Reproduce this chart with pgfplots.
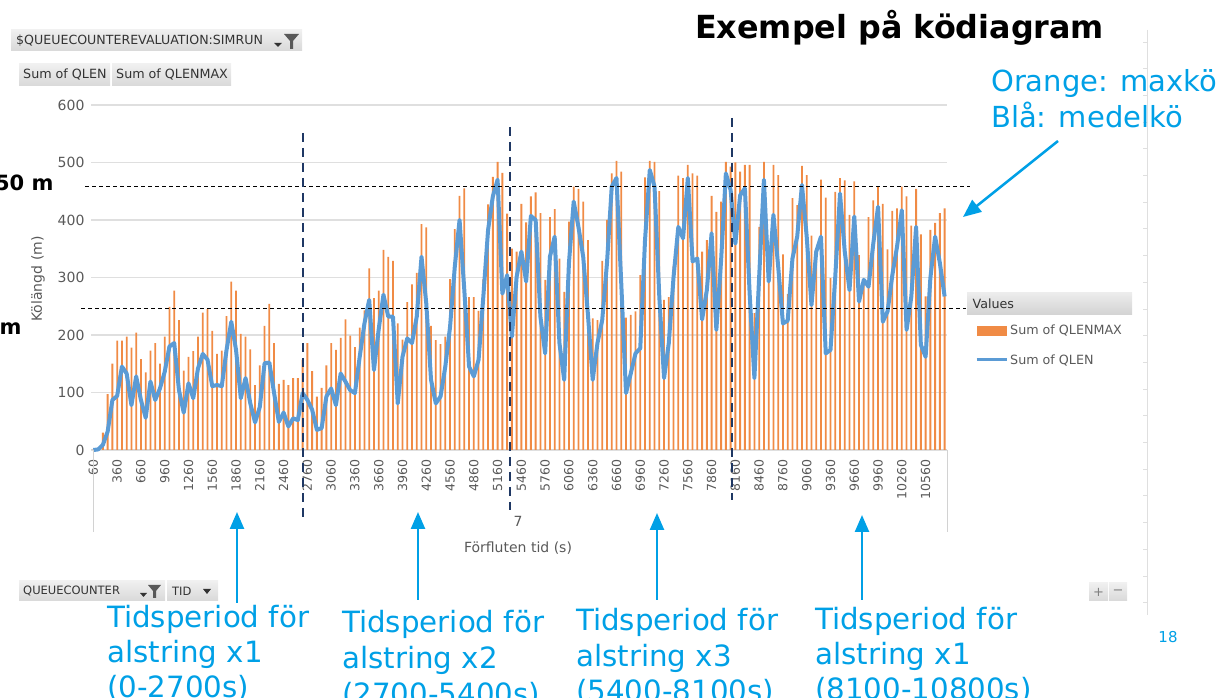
\documentclass[border=0pt]{standalone}
\usepackage{pgfplots}
\pgfplotsset{compat=1.18}
\usepackage{pgfplotstable}
\usepackage{fontspec}
\setmainfont{DejaVu Sans}
\usetikzlibrary{arrows.meta}
\definecolor{barO}{HTML}{F08B45}
\definecolor{lineB}{HTML}{5B9BD5}
\definecolor{annB}{HTML}{00A0E6}
\definecolor{navy}{HTML}{1F3864}
\definecolor{tickG}{HTML}{595959}
\definecolor{btnT}{HTML}{333333}

\pgfplotstableread{
i max len
0 0 0
1 0 1
2 30 9
3 97 32
4 150 87
5 190 94
6 190 145
7 197 133
8 178 78
9 204 128
10 158 87
11 135 56
12 173 119
13 186 87
14 150 107
15 197 136
16 249 180
17 277 186
18 226 104
19 138 65
20 162 116
21 172 90
22 197 142
23 239 167
24 245 157
25 207 111
26 167 113
27 173 111
28 233 174
29 293 223
30 277 174
31 202 90
32 197 125
33 175 81
34 113 48
35 147 75
36 216 151
37 254 152
38 186 99
39 115 49
40 122 65
41 113 41
42 125 55
43 125 52
44 157 99
45 186 87
46 137 70
47 93 35
48 108 38
49 147 93
50 186 107
51 174 78
52 195 133
53 227 119
54 199 104
55 179 99
56 213 162
57 243 220
58 316 261
59 264 139
60 277 210
61 348 270
62 336 232
63 329 232
64 220 81
65 192 162
66 257 194
67 288 186
68 308 232
69 393 336
70 387 255
71 216 122
72 191 81
73 184 93
74 197 145
75 297 214
76 384 319
77 442 400
78 455 278
79 266 145
80 266 128
81 242 157
82 297 267
83 427 383
84 475 441
85 501 470
86 482 272
87 411 304
88 350 197
89 345 301
90 428 345
91 396 293
92 441 407
93 448 400
94 412 232
95 296 168
96 405 336
97 419 371
98 333 186
99 275 122
100 397 325
101 458 432
102 454 388
103 432 336
104 365 235
105 229 122
106 226 186
107 329 226
108 400 325
109 481 458
110 503 473
111 484 290
112 230 99
113 235 133
114 241 168
115 304 177
116 474 365
117 503 487
118 501 458
119 450 267
120 261 125
121 266 186
122 320 301
123 477 388
124 473 368
125 496 473
126 481 328
127 477 333
128 345 227
129 365 278
130 442 377
131 414 209
132 432 330
133 501 481
134 493 452
135 500 359
136 484 443
137 496 455
138 496 272
139 238 125
140 388 301
141 501 470
142 299 293
143 496 409
144 478 319
145 340 220
146 271 225
147 438 333
148 426 371
149 494 461
150 478 371
151 373 252
152 330 345
153 470 371
154 439 168
155 299 174
156 449 301
157 473 446
158 469 345
159 409 278
160 467 406
161 339 258
162 290 296
163 405 284
164 434 359
165 458 423
166 428 223
167 349 241
168 416 304
169 420 354
170 458 417
171 441 209
172 390 267
173 454 388
174 375 183
175 267 162
176 383 299
177 395 371
178 412 325
179 420 267
}\qdata

\begin{document}
\begin{tikzpicture}
\useasboundingbox (0,0) rectangle (1229pt,698pt);
\begin{axis}[
  at={(91pt,248pt)}, anchor=south west,
  scale only axis, width=856pt, height=345pt,
  xmin=-0.5, xmax=179.5, ymin=0, ymax=600,
  clip=false,
  axis x line*=bottom, axis y line*=left,
  x axis line style={draw=gray!35, line width=1pt},
  y axis line style={draw=none},
  ytick={0,100,...,600},
  xtick={0,5,...,175},
  xticklabels={60,360,660,960,1260,1560,1860,2160,2460,2760,3060,3360,3660,3960,4260,4560,4860,5160,5460,5760,6060,6360,6660,6960,7260,7560,7860,8160,8460,8760,9060,9360,9660,9960,10260,10560},
  major tick length=0pt,
  /pgf/number format/assume math mode=true,
  ymajorgrids, grid style={draw=gray!25, line width=1.2pt},
  yticklabel style={font=\fontsize{14}{14}\selectfont, text=tickG, xshift=-3pt},
  xticklabel style={font=\fontsize{12.5}{12.5}\selectfont, text=tickG, rotate=90, anchor=east, xshift=-6pt},
  legend style={at={(1.0327,0.368)}, anchor=north west, draw=none, fill=none,
    font=\fontsize{12.7}{12.7}\selectfont, text=tickG, row sep=14pt, inner sep=0pt,
    cells={anchor=west}},
]
\addplot[ybar, bar width=0.38, bar shift=0pt, fill=barO, draw=none,
  legend image code/.code={\fill[barO] (0pt,-5pt) rectangle (30pt,5pt);}]
  table[x=i, y=max]{\qdata};
\addlegendentry{Sum of QLENMAX}
\addplot[lineB, line width=4pt, line join=round, mark=none,
  legend image code/.code={\draw[lineB, line width=3pt] (0pt,0pt) -- (30pt,0pt);}]
  table[x=i, y=len]{\qdata};
\addlegendentry{Sum of QLEN}
\end{axis}

\begin{scope}[x=1pt, y=-1pt, shift={(0pt,698pt)}]
% x axis frame
\draw[gray!35, line width=1pt] (93,450) -- (93,532);
\draw[gray!35, line width=1pt] (947,450) -- (947,532);
% slide right line
\draw[gray!25, line width=1pt] (1147,30) -- (1147,615);
\foreach \k in {0,...,21} \draw[gray!25, line width=0.8pt] (1143,42+26.7*\k) -- (1147,42+26.7*\k);
% axis titles
\node[rotate=90, font=\fontsize{14}{14}\selectfont, text=tickG] at (38,279) {Kölängd (m)};
\node[font=\fontsize{14}{14}\selectfont, text=tickG] at (518,521) {7};
\node[font=\fontsize{14}{14}\selectfont, text=tickG] at (518,548) {Förfluten tid (s)};
% horizontal reference lines
\draw[black, line width=1pt, dash pattern=on 4pt off 3pt] (85,186.7) -- (970,186.7);
\draw[black, line width=1pt, dash pattern=on 4pt off 3pt] (81,309) -- (966,309);
\node[anchor=base east, font=\bfseries\fontsize{21}{21}\selectfont] at (57,191) {450 m};
\node[anchor=base east, font=\bfseries\fontsize{21}{21}\selectfont] at (25,335) {250 m};
% vertical period lines
\draw[navy, line width=2.6pt, dash pattern=on 9pt off 6pt] (303,133) -- (303,518);
\draw[navy, line width=2.6pt, dash pattern=on 9pt off 6pt] (510,127) -- (510,510);
\draw[navy, line width=2.6pt, dash pattern=on 9pt off 6pt] (732,118) -- (732,500);
% legend header
\fill[top color=gray!15, bottom color=gray!35] (967,293) rectangle (1132,315);
\node[anchor=west, font=\fontsize{12.7}{12.7}\selectfont, text=btnT] at (969,304) {Values};
% pivot buttons
\fill[top color=gray!12, bottom color=gray!30] (11,30) rectangle (302,51);
\node[anchor=west, font=\fontsize{12.6}{12.6}\selectfont, text=btnT, inner sep=0pt] at (16,41) {\$QUEUECOUNTEREVALUATION:SIMRUN};
\fill[btnT] (274,43) -- (282,43) -- (278,47) -- cycle;
\fill[gray!70!black] (284,34) -- (299,34) -- (293,41) -- (293,49) -- (290,49) -- (290,41) -- cycle;
\fill[top color=gray!12, bottom color=gray!30] (19,64) rectangle (110,86);
\node[anchor=west, font=\fontsize{12.7}{12.7}\selectfont, text=btnT, inner sep=0pt] at (23,75) {Sum of QLEN};
\fill[top color=gray!12, bottom color=gray!30] (112,64) rectangle (231,86);
\node[anchor=west, font=\fontsize{12.7}{12.7}\selectfont, text=btnT, inner sep=0pt] at (116,75) {Sum of QLENMAX};
\fill[top color=gray!12, bottom color=gray!30] (19,581) rectangle (165,601);
\node[anchor=west, font=\fontsize{11.5}{11.5}\selectfont, text=btnT, inner sep=0pt] at (23,591) {QUEUECOUNTER};
\fill[btnT] (140,593) -- (147,593) -- (143.5,597) -- cycle;
\fill[gray!70!black] (148,585) -- (161,585) -- (156,591) -- (156,598) -- (153,598) -- (153,591) -- cycle;
\fill[top color=gray!12, bottom color=gray!30] (167,581) rectangle (218,601);
\node[anchor=west, font=\fontsize{11.5}{11.5}\selectfont, text=btnT, inner sep=0pt] at (172,591) {TID};
\fill[btnT] (203,589) -- (211,589) -- (207,594) -- cycle;
\fill[top color=gray!12, bottom color=gray!30] (1089,583) rectangle (1108,601);
\node[font=\fontsize{13}{13}\selectfont, text=gray] at (1098.5,592) {+};
\fill[top color=gray!12, bottom color=gray!30] (1109,583) rectangle (1127,601);
\node[font=\fontsize{13}{13}\selectfont, text=gray] at (1118,592) {−};
% title
\node[anchor=base west, font=\bfseries\fontsize{31.8}{31.8}\selectfont, inner sep=0pt] at (695,39) {Exempel på ködiagram};
% annotations
\node[anchor=base west, font=\fontsize{29}{29}\selectfont, text=annB, inner sep=0pt] at (991,92) {Orange: maxkö};
\node[anchor=base west, font=\fontsize{29}{29}\selectfont, text=annB, inner sep=0pt] at (991,128) {Blå: medelkö};
\draw[annB, line width=2.5pt, -{Triangle[width=15pt,length=18pt]}] (1058,141) -- (963,217);
% arrows from bottom
\draw[annB, line width=2.5pt, -{Triangle[width=14pt,length=17pt]}] (237,603) -- (237,512);
\draw[annB, line width=2.5pt, -{Triangle[width=14pt,length=17pt]}] (418,600) -- (418,512);
\draw[annB, line width=2.5pt, -{Triangle[width=14pt,length=17pt]}] (657,600) -- (657,513);
\draw[annB, line width=2.5pt, -{Triangle[width=14pt,length=17pt]}] (862,600) -- (862,515);
% period texts
\begin{scope}[every node/.style={anchor=base west, font=\fontsize{29.3}{29.3}\selectfont, text=annB, inner sep=0pt}]
\node at (107,628) {Tidsperiod för};
\node at (107,663) {alstring x1};
\node at (107,698) {(0-2700s)};
\node at (342,633) {Tidsperiod för};
\node at (342,669) {alstring x2};
\node at (342,705) {(2700-5400s)};
\node at (576,631) {Tidsperiod för};
\node at (576,667) {alstring x3};
\node at (576,702) {(5400-8100s)};
\node at (815,630) {Tidsperiod för};
\node at (815,665) {alstring x1};
\node at (815,700) {(8100-10800s)};
\end{scope}
\node[font=\fontsize{15}{15}\selectfont, text=annB] at (1168,637) {18};
\end{scope}
\end{tikzpicture}
\end{document}
